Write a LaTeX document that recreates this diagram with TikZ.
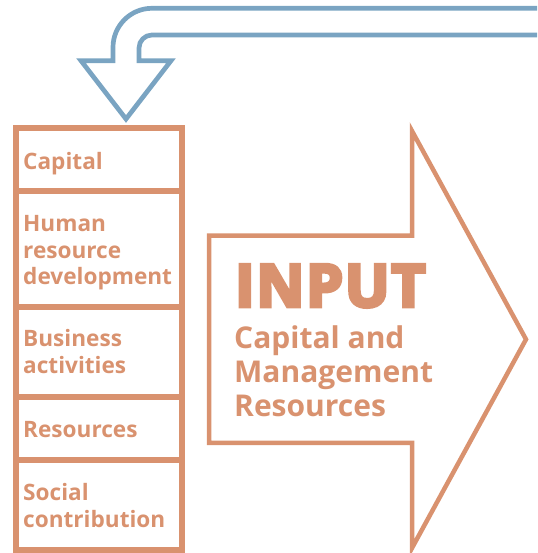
\documentclass[tikz,border=0pt]{standalone}
\usepackage{fontspec}
\setmainfont{Open Sans}
\definecolor{org}{RGB}{217,146,111}
\definecolor{blu}{RGB}{122,164,194}
\begin{document}
\begin{tikzpicture}[x=1pt,y=1pt,
  box/.style={draw=org, line width=6pt, rectangle, anchor=north west, outer sep=0pt,
    minimum width=166pt, inner sep=0pt},
  boxtxt/.style={anchor=base west, inner sep=0pt, text=org, font=\fontsize{22.6}{27}\selectfont\bfseries},
  bigtxt/.style={anchor=base west, inner sep=0pt, text=org, font=\fontsize{59}{59}\selectfont\bfseries\addfontfeature{FakeBold=6,LetterSpace=3}},
  subtxt/.style={anchor=base west, inner sep=0pt, text=org, font=\fontsize{30}{34}\selectfont\bfseries},
  orgarrow/.style={draw=org, line width=4.5pt, line join=miter},
  bluarrow/.style={draw=blu, line width=4.7pt, line join=miter}]
\useasboundingbox (0,0) rectangle (537,553);
\clip (0,0) rectangle (537,553);
% feedback arrow
\draw[bluarrow] (545,544.7) -- (152,544.7) arc[start angle=90,end angle=180,radius=39]
  -- (113,492.3) -- (81,492.3) -- (126,434) -- (171,492.3) -- (139,492.3) -- (139,505)
  arc[start angle=180,end angle=90,radius=13] -- (545,518);
% boxes
\node[box, minimum height=62.7pt] (b1) at (16,425) {};
\node[box, minimum height=116.3pt] (b2) at (16,362.3) {};
\node[box, minimum height=90pt] (b3) at (16,246) {};
\node[box, minimum height=63pt] (b4) at (16,156) {};
\node[box, minimum height=90pt] (b5) at (16,93) {};
\node[boxtxt] (t1) at (23,383.7) {Capital};
\node[boxtxt] (t2a) at (23,321.3) {Human};
\node[boxtxt] (t2b) at (23,294.5) {resource};
\node[boxtxt] (t2c) at (23,268) {development};
\node[boxtxt] (t3a) at (23,206.3) {Business};
\node[boxtxt] (t3b) at (23,179.3) {activities};
\node[boxtxt] (t4) at (23,115.7) {Resources};
\node[boxtxt] (t5a) at (23,52.3) {Social};
\node[boxtxt] (t5b) at (23,25.7) {contribution};
% input arrow
\draw[orgarrow] (209,317.3) -- (412,317.3) -- (412,422) -- (526,213.65) -- (412,5) -- (412,110) -- (209,110) -- cycle;
\node[bigtxt] (inp) at (235,246.3) {INPUT};
\node[subtxt] (s1) at (234,204) {Capital and};
\node[subtxt] (s2) at (234,170) {Management};
\node[subtxt] (s3) at (234,136) {Resources};
\end{tikzpicture}
\end{document}
